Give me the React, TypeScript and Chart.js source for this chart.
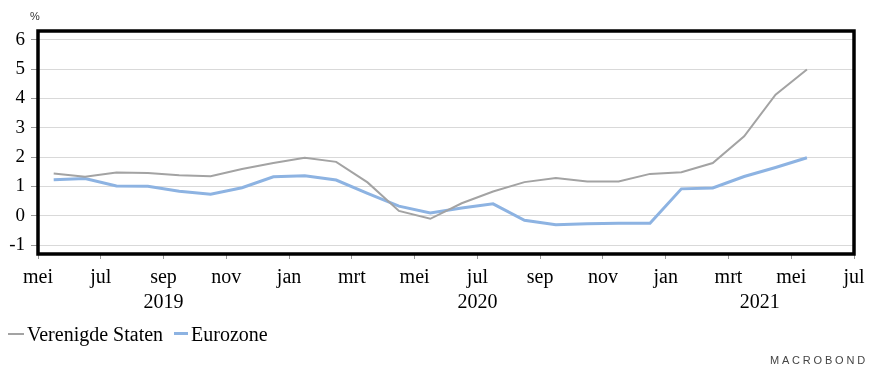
import React, { useEffect, useRef } from 'react';
import { Chart, registerables } from 'chart.js';

Chart.register(...registerables);

// Monthly observations, May 2019 .. May 2021
const months = [
  '2019-05', '2019-06', '2019-07', '2019-08', '2019-09', '2019-10', '2019-11', '2019-12',
  '2020-01', '2020-02', '2020-03', '2020-04', '2020-05', '2020-06', '2020-07', '2020-08',
  '2020-09', '2020-10', '2020-11', '2020-12', '2021-01', '2021-02', '2021-03', '2021-04', '2021-05',
];
const usValues = [1.44, 1.33, 1.48, 1.46, 1.38, 1.35, 1.6, 1.8, 1.98, 1.84, 1.14, 0.17, -0.1, 0.43, 0.83, 1.15, 1.29, 1.17, 1.17, 1.43, 1.49, 1.8, 2.71, 4.13, 4.99];
const ezValues = [1.23, 1.27, 1.02, 1.01, 0.84, 0.74, 0.96, 1.33, 1.37, 1.22, 0.77, 0.33, 0.1, 0.27, 0.41, -0.15, -0.3, -0.27, -0.25, -0.25, 0.92, 0.95, 1.34, 1.65, 1.98];
const xTickLabels = ['mei', 'jul', 'sep', 'nov', 'jan', 'mrt', 'mei', 'jul', 'sep', 'nov', 'jan', 'mrt', 'mei', 'jul'];
const yTicks = [-1, 0, 1, 2, 3, 4, 5, 6];
const years = ['2019', '2020', '2021'];
const seriesNames = ['Verenigde Staten', 'Eurozone'];

const X_MAX = (xTickLabels.length - 1) * 2; // months from May 2019 to Jul 2021
const GRAY = '#a3a3a3';
const BLUE = '#8db3e2';
const SERIF = '"Liberation Serif", "Times New Roman", serif';

export default function App() {
  const ref = useRef<HTMLCanvasElement | null>(null);

  useEffect(() => {
    if (!ref.current) return;
    const toPoints = (vals: number[]) => vals.map((v, i) => ({ x: i + 0.5, y: v }));

    const yearStarts = years.map((y) => months.findIndex((m) => m.startsWith(y)));

    const framePlugin = {
      id: 'frame',
      afterDraw(chart: any) {
        const { ctx, chartArea } = chart;
        const xs = chart.scales.x;
        ctx.save();
        ctx.strokeStyle = '#000';
        ctx.lineWidth = 3.5;
        ctx.strokeRect(chartArea.left, chartArea.top, chartArea.right - chartArea.left, chartArea.bottom - chartArea.top);
        ctx.fillStyle = '#000';
        ctx.font = `20px ${SERIF}`;
        ctx.textAlign = 'center';
        ctx.textBaseline = 'alphabetic';
        years.forEach((y, i) => {
          const s = yearStarts[i];
          const e = i + 1 < years.length ? yearStarts[i + 1] : X_MAX;
          ctx.fillText(y, xs.getPixelForValue((s + e) / 2), chartArea.bottom + 54);
        });
        ctx.restore();
      },
    };

    const chart = new Chart(ref.current, {
      type: 'line',
      data: {
        datasets: [
          {
            label: seriesNames[0],
            data: toPoints(usValues),
            borderColor: GRAY,
            backgroundColor: GRAY,
            borderWidth: 2,
            pointRadius: 0,
            tension: 0,
          },
          {
            label: seriesNames[1],
            data: toPoints(ezValues),
            borderColor: BLUE,
            backgroundColor: BLUE,
            borderWidth: 3,
            pointRadius: 0,
            tension: 0,
          },
        ],
      },
      options: {
        animation: false,
        responsive: false,
        events: [],
        layout: { padding: { top: 31, right: 23, left: 0, bottom: 0 } },
        plugins: { legend: { display: false }, tooltip: { enabled: false } },
        scales: {
          x: {
            type: 'linear',
            min: 0,
            max: X_MAX,
            afterFit(scale: any) {
              scale.height = 125;
            },
            afterBuildTicks(scale: any) {
              scale.ticks = xTickLabels.map((_, i) => ({ value: i * 2 }));
            },
            ticks: {
              autoSkip: false,
              maxRotation: 0,
              padding: 7,
              color: '#000',
              font: { family: SERIF, size: 20 },
              callback: (v: any) => xTickLabels[Math.round(Number(v) / 2)],
            },
            grid: { drawOnChartArea: false, drawTicks: true, tickLength: 5, color: '#999' },
            border: { display: false },
          },
          y: {
            type: 'linear',
            min: -1.3,
            max: 6.3,
            afterFit(scale: any) {
              scale.width = 38;
            },
            afterBuildTicks(scale: any) {
              scale.ticks = yTicks.map((v) => ({ value: v }));
            },
            ticks: {
              padding: 6,
              color: '#000',
              font: { family: SERIF, size: 19 },
              callback: (v: any) => String(v),
            },
            grid: { color: '#d9d9d9', lineWidth: 1, drawTicks: true, tickLength: 7, tickColor: '#999' },
            border: { display: false },
          },
        },
      },
      plugins: [framePlugin],
    });
    return () => chart.destroy();
  }, []);

  return (
    <div style={{ position: 'fixed', left: 0, top: 0, width: 877, height: 379, background: '#fff', overflow: 'hidden' }}>
      <canvas ref={ref} width={877} height={379} style={{ position: 'absolute', left: 0, top: 0 }} />
      <div style={{ position: 'absolute', left: 30, top: 10, font: '11px "Liberation Sans", Arial, sans-serif', color: '#333' }}>%</div>
      <div style={{ position: 'absolute', left: 8, top: 333, width: 16, height: 2, background: GRAY }} />
      <div style={{ position: 'absolute', left: 27, top: 324, font: `20px ${SERIF}`, lineHeight: '20px', color: '#000', whiteSpace: 'nowrap' }}>{seriesNames[0]}</div>
      <div style={{ position: 'absolute', left: 174, top: 332, width: 14, height: 3, background: BLUE }} />
      <div style={{ position: 'absolute', left: 191, top: 324, font: `20px ${SERIF}`, lineHeight: '20px', color: '#000', whiteSpace: 'nowrap' }}>{seriesNames[1]}</div>
      <div style={{ position: 'absolute', left: 770, top: 354, font: '11px "Liberation Sans", Arial, sans-serif', letterSpacing: '2.8px', color: '#444', whiteSpace: 'nowrap' }}>MACROBOND</div>
    </div>
  );
}
